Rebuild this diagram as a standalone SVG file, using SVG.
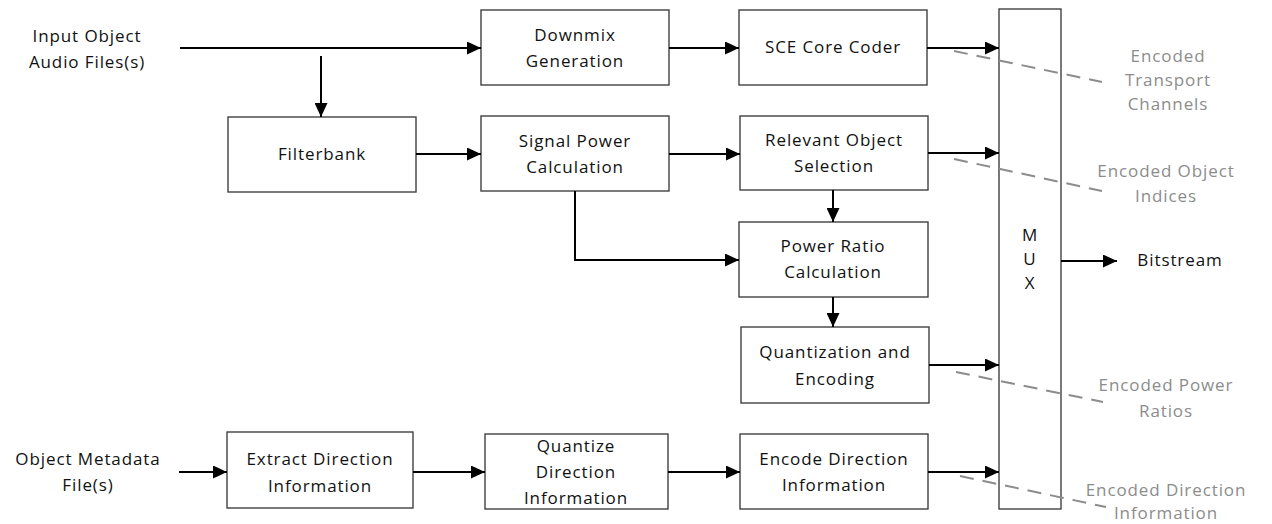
<svg xmlns="http://www.w3.org/2000/svg" width="1272" height="524" viewBox="0 0 1272 524">
<defs>
<marker id="ah" markerWidth="14" markerHeight="13" refX="14" refY="6.5" orient="auto" markerUnits="userSpaceOnUse">
<path d="M0,0 L14,6.5 L0,13 Z" fill="#000"/>
</marker>
<style>
.box{fill:#fff;stroke:#404040;stroke-width:1.4}
.t{font-family:"Open Sans","Noto Sans",sans-serif;font-size:17px;letter-spacing:0.9px;fill:#111;text-anchor:middle}
.g{fill:#8c8c8c}
.c{stroke:#000;stroke-width:2;fill:none}
.d{stroke:#8c8c8c;stroke-width:2;fill:none;stroke-dasharray:14 9}
</style>
</defs>
<rect width="1272" height="524" fill="#fff"/>

<g id="input-audio"><text class="t" x="87" y="42">Input Object</text><text class="t" x="87" y="68">Audio Files(s)</text></g>
<g id="object-metadata"><text class="t" x="88" y="465">Object Metadata</text><text class="t" x="88" y="491">File(s)</text></g>

<g id="downmix"><rect class="box" x="481" y="10" width="188" height="75"/><text class="t" x="575" y="41">Downmix</text><text class="t" x="575" y="67">Generation</text></g>
<g id="sce"><rect class="box" x="739" y="10" width="188" height="75"/><text class="t" x="833" y="53">SCE Core Coder</text></g>
<g id="filterbank"><rect class="box" x="228" y="117" width="188" height="75"/><text class="t" x="322" y="160">Filterbank</text></g>
<g id="signal-power"><rect class="box" x="481" y="116" width="188" height="75"/><text class="t" x="575" y="147">Signal Power</text><text class="t" x="575" y="173">Calculation</text></g>
<g id="relevant"><rect class="box" x="740" y="116" width="188" height="74"/><text class="t" x="834" y="146">Relevant Object</text><text class="t" x="834" y="172">Selection</text></g>
<g id="power-ratio"><rect class="box" x="739" y="222" width="189" height="75"/><text class="t" x="833" y="252">Power Ratio</text><text class="t" x="833" y="278">Calculation</text></g>
<g id="quantization"><rect class="box" x="741" y="327" width="188" height="76"/><text class="t" x="835" y="358">Quantization and</text><text class="t" x="835" y="385">Encoding</text></g>
<g id="extract"><rect class="box" x="227" y="432" width="186" height="76"/><text class="t" x="320" y="465">Extract Direction</text><text class="t" x="320" y="492">Information</text></g>
<g id="quantize-dir"><rect class="box" x="485" y="434" width="183" height="75"/><text class="t" x="576" y="452">Quantize</text><text class="t" x="576" y="478">Direction</text><text class="t" x="576" y="504">Information</text></g>
<g id="encode-dir"><rect class="box" x="740" y="434" width="188" height="75"/><text class="t" x="834" y="465">Encode Direction</text><text class="t" x="834" y="491">Information</text></g>
<g id="mux"><rect class="box" x="999" y="9" width="62" height="500"/><text class="t" x="1030" y="241">M</text><text class="t" x="1030" y="265">U</text><text class="t" x="1030" y="289">X</text></g>
<g id="bitstream"><text class="t" x="1180" y="266">Bitstream</text></g>
<g id="label-transport"><text class="t g" x="1168" y="62">Encoded</text><text class="t g" x="1168" y="86">Transport</text><text class="t g" x="1168" y="110">Channels</text></g>
<g id="label-indices"><text class="t g" x="1166" y="177">Encoded Object</text><text class="t g" x="1166" y="202">Indices</text></g>
<g id="label-power"><text class="t g" x="1166" y="391">Encoded Power</text><text class="t g" x="1166" y="417">Ratios</text></g>
<g id="label-direction"><text class="t g" x="1166" y="496">Encoded Direction</text><text class="t g" x="1166" y="519">Information</text></g>

<g id="connectors">
<line class="c" x1="180" y1="48" x2="481" y2="48" marker-end="url(#ah)"/>
<line class="c" x1="321" y1="56" x2="321" y2="117" marker-end="url(#ah)"/>
<line class="c" x1="416" y1="154" x2="481" y2="154" marker-end="url(#ah)"/>
<line class="c" x1="669" y1="48" x2="739" y2="48" marker-end="url(#ah)"/>
<line class="c" x1="669" y1="154" x2="740" y2="154" marker-end="url(#ah)"/>
<polyline class="c" points="575,191 575,260 739,260" marker-end="url(#ah)"/>
<line class="c" x1="833" y1="190" x2="833" y2="222" marker-end="url(#ah)"/>
<line class="c" x1="833" y1="297" x2="833" y2="327" marker-end="url(#ah)"/>
<line class="c" x1="927" y1="48" x2="999" y2="48" marker-end="url(#ah)"/>
<line class="c" x1="928" y1="153" x2="999" y2="153" marker-end="url(#ah)"/>
<line class="c" x1="929" y1="365" x2="999" y2="365" marker-end="url(#ah)"/>
<line class="c" x1="928" y1="472" x2="999" y2="472" marker-end="url(#ah)"/>
<line class="c" x1="179" y1="472" x2="227" y2="472" marker-end="url(#ah)"/>
<line class="c" x1="413" y1="472" x2="485" y2="472" marker-end="url(#ah)"/>
<line class="c" x1="668" y1="472" x2="740" y2="472" marker-end="url(#ah)"/>
<line class="c" x1="1061" y1="261" x2="1117" y2="261" marker-end="url(#ah)"/>
<line class="d" x1="954" y1="51" x2="1102" y2="82"/>
<line class="d" x1="954" y1="159" x2="1102" y2="191"/>
<line class="d" x1="956" y1="372" x2="1103" y2="402"/>
<line class="d" x1="960" y1="476" x2="1106" y2="507"/>
</g>
</svg>
